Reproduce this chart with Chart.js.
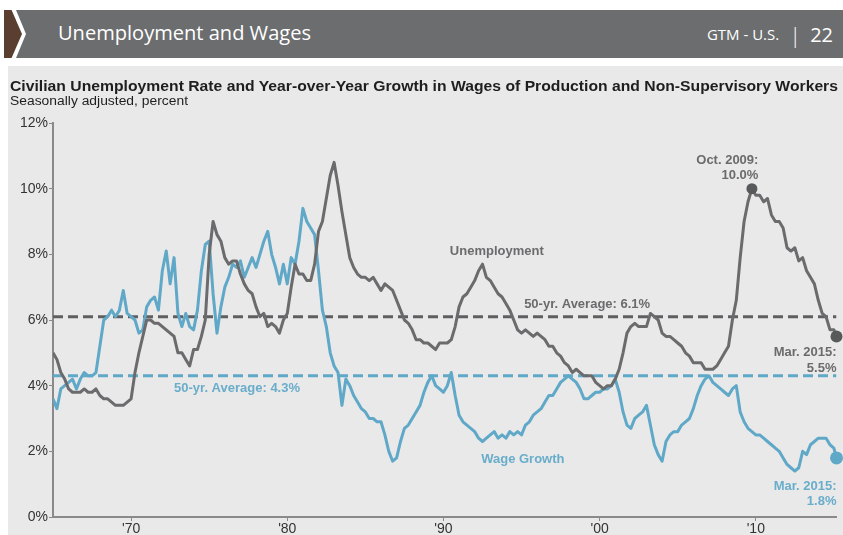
<!DOCTYPE html>
<html>
<head>
<meta charset="utf-8">
<script src="https://cdn.jsdelivr.net/npm/chart.js@4.4.1/dist/chart.umd.min.js"></script>
<style>
  html, body { margin:0; padding:0; background:#fff; }
  #page { position:relative; width:843px; height:535px; overflow:hidden; font-family:"Liberation Sans", Arial, sans-serif; }
  #tab-brown { position:absolute; left:4px; top:10px; width:18px; height:48px; background:#5a3e2f;
    clip-path:polygon(0 0, 42% 0, 100% 50%, 42% 100%, 0 100%); }
  #tab-bar { position:absolute; left:16px; top:10px; right:0; height:48px; background:#6c6d6f;
    clip-path:polygon(0 0, 100% 0, 100% 100%, 0 100%, 10px 50%); }
  #hdr-title { position:absolute; left:58px; top:23px; color:#fff; font:20px/20px "Open Sans", sans-serif; white-space:nowrap; transform-origin:0 0; }
  #hdr-right { position:absolute; right:10px; top:22px; color:#fff; font-family:"Open Sans", sans-serif; white-space:nowrap; display:flex; align-items:center; height:24px; }
  #hdr-right .gtm { font-size:15px; }
  #hdr-right .sep { font-size:22px; margin:0 9px 0 10px; font-weight:300; }
  #hdr-right .pg { font-size:20px; }
  #panel { position:absolute; left:8px; top:66px; right:0; bottom:0; background:#e9e9e9; }
  #chart { position:absolute; left:0; top:0; }
  .fit { position:absolute; white-space:nowrap; transform-origin:0 0; color:#1e1e1e; }
  #title { left:10px; top:78px; font:bold 15px/15px "Liberation Sans", Arial, sans-serif; }
  #subtitle { left:10px; top:95px; font:12.5px/13px "Liberation Sans", Arial, sans-serif; }
</style>
</head>
<body>
<div id="page">
  <div id="tab-brown"></div>
  <div id="tab-bar"></div>
  <div id="hdr-title" class="fit" data-w="253">Unemployment and Wages</div>
  <div id="hdr-right"><span class="gtm">GTM - U.S.</span><span class="sep">|</span><span class="pg">22</span></div>
  <div id="panel"></div>
  <canvas id="chart" width="843" height="535"></canvas>
  <div id="title" class="fit" data-w="828">Civilian Unemployment Rate and Year-over-Year Growth in Wages of Production and Non-Supervisory Workers</div>
  <div id="subtitle" class="fit" data-w="178">Seasonally adjusted, percent</div>
</div>
<script>
// quarterly samples (Jan, Apr, Jul, Oct) from Jan 1965 through Jan 2015, percent
const unemployment = [
  5.0, 4.8, 4.4, 4.2,   // 1965
  3.9, 3.8, 3.8, 3.8,
  3.9, 3.8, 3.8, 3.9,
  3.7, 3.6, 3.6, 3.5,
  3.4, 3.4, 3.4, 3.5,
  3.6, 4.4, 5.0, 5.5,   // 1970
  6.0, 6.0, 5.9, 5.9,
  5.8, 5.7, 5.6, 5.5,
  5.0, 5.0, 4.8, 4.6,
  5.1, 5.1, 5.5, 6.0,
  8.0, 9.0, 8.6, 8.4,   // 1975
  7.9, 7.7, 7.8, 7.8,
  7.4, 7.1, 6.9, 6.8,
  6.4, 6.1, 6.2, 5.8,
  5.9, 5.8, 5.6, 6.0,
  6.2, 7.0, 7.7, 7.4,   // 1980
  7.4, 7.2, 7.2, 7.7,
  8.7, 9.0, 9.7, 10.4,
  10.8, 10.1, 9.3, 8.6,
  7.9, 7.6, 7.4, 7.3,
  7.3, 7.2, 7.3, 7.1,   // 1985
  6.9, 7.1, 7.0, 6.9,
  6.6, 6.3, 6.0, 5.9,
  5.7, 5.4, 5.4, 5.3,
  5.3, 5.2, 5.1, 5.3,
  5.3, 5.3, 5.4, 5.8,   // 1990
  6.4, 6.7, 6.8, 7.0,
  7.2, 7.5, 7.7, 7.3,
  7.2, 7.0, 6.8, 6.7,
  6.5, 6.3, 6.0, 5.7,
  5.6, 5.7, 5.6, 5.5,   // 1995
  5.6, 5.5, 5.4, 5.2,
  5.2, 5.0, 4.9, 4.7,
  4.6, 4.4, 4.5, 4.4,
  4.3, 4.3, 4.3, 4.1,
  4.0, 3.9, 4.0, 4.0,   // 2000
  4.2, 4.5, 5.0, 5.6,
  5.8, 5.9, 5.8, 5.8,
  5.8, 6.2, 6.1, 6.0,
  5.6, 5.5, 5.5, 5.4,
  5.3, 5.2, 5.0, 4.9,   // 2005
  4.7, 4.7, 4.7, 4.5,
  4.5, 4.5, 4.6, 4.8,
  5.0, 5.2, 6.0, 6.6,
  7.9, 9.0, 9.6, 10.0,
  9.8, 9.8, 9.6, 9.7,   // 2010
  9.2, 9.0, 9.0, 8.8,
  8.2, 8.1, 8.2, 7.8,
  7.9, 7.5, 7.3, 7.1,
  6.6, 6.2, 6.1, 5.7,
  5.7                   // 2015
];

const wageGrowth = [
  3.6, 3.3, 3.9, 4.0,   // 1965
  4.1, 4.2, 3.9, 4.2,
  4.4, 4.3, 4.3, 4.4,
  5.2, 6.0, 6.1, 6.3,
  6.1, 6.3, 6.9, 6.2,
  6.1, 6.0, 5.6, 5.7,   // 1970
  6.4, 6.6, 6.7, 6.3,
  7.5, 8.1, 7.1, 7.9,
  6.2, 5.8, 6.2, 5.8,
  5.7, 6.3, 7.5, 8.3,
  8.4, 6.8, 5.6, 6.4,   // 1975
  7.0, 7.3, 7.7, 7.6,
  7.8, 7.3, 7.6, 7.9,
  7.6, 8.0, 8.4, 8.7,
  8.0, 7.6, 7.1, 7.7,
  7.1, 7.9, 7.7, 8.4,   // 1980
  9.4, 9.0, 8.8, 8.6,
  7.5, 6.3, 5.8, 5.0,
  4.6, 4.4, 3.4, 4.2,
  4.0, 3.7, 3.5, 3.3,
  3.2, 3.0, 3.0, 2.9,   // 1985
  2.9, 2.5, 2.0, 1.7,
  1.8, 2.3, 2.7, 2.8,
  3.0, 3.2, 3.4, 3.8,
  4.1, 4.3, 4.0, 3.9,
  3.8, 4.0, 4.4, 3.7,   // 1990
  3.1, 2.9, 2.8, 2.7,
  2.6, 2.4, 2.3, 2.4,
  2.5, 2.6, 2.4, 2.5,
  2.4, 2.6, 2.5, 2.6,
  2.5, 2.8, 2.9, 3.1,   // 1995
  3.2, 3.3, 3.5, 3.7,
  3.7, 3.9, 4.1, 4.2,
  4.3, 4.2, 4.1, 3.9,
  3.6, 3.6, 3.7, 3.8,
  3.8, 3.9, 3.9, 4.0,   // 2000
  4.2, 3.8, 3.2, 2.8,
  2.7, 3.0, 3.1, 3.2,
  3.4, 2.8, 2.2, 1.9,
  1.7, 2.3, 2.5, 2.6,
  2.6, 2.8, 2.9, 3.0,   // 2005
  3.3, 3.7, 4.0, 4.2,
  4.3, 4.1, 4.0, 3.9,
  3.8, 3.7, 3.9, 4.0,
  3.2, 2.9, 2.7, 2.6,
  2.5, 2.5, 2.4, 2.3,   // 2010
  2.2, 2.1, 2.0, 1.8,
  1.6, 1.5, 1.4, 1.5,
  2.0, 1.9, 2.2, 2.3,
  2.4, 2.4, 2.4, 2.2,
  2.1                   // 2015
];

// latest reading (Mar. 2015) and the Oct. 2009 unemployment peak
const latestMonth = 602;      // months since Jan 1965
const latestUnemp = 5.5;
const latestWages = 1.8;
const peakMonth = 537;
const peakUnemp = 10.0;

// 50-year averages
const avgUnemp = 6.1;
const avgWages = 4.3;

// axes
const decadeYears  = [1970, 1980, 1990, 2000, 2010];
const decadeLabels = ["'70", "'80", "'90", "'00", "'10"];
const yTickValues  = [0, 2, 4, 6, 8, 10, 12];

const GREY = '#6b6b6d', GREY_DARK = '#58595b', BLUE = '#5fa8c8', BLUE_TXT = '#69adcb';

const toPoints = (vals, last) =>
  vals.map((v, i) => ({ x: i * 3, y: v })).concat([{ x: latestMonth, y: last }]);

const flat = v => [{ x: 0, y: v }, { x: latestMonth, y: v }];

// text placed in data units (month, percent)
const notes = [
  { text: 'Unemployment',          month: 341, value: 8.10, align: 'center', color: GREY },
  { text: '50-yr. Average: 6.1%',  month: 362, value: 6.46, align: 'left',   color: GREY },
  { text: '50-yr. Average: 4.3%',  month: 93,  value: 3.93, align: 'left',   color: BLUE_TXT },
  { text: 'Wage Growth',           month: 361, value: 1.74, align: 'center', color: BLUE_TXT },
  { text: 'Oct. 2009:',            month: 542, value: 10.87, align: 'right', color: GREY },
  { text: '10.0%',                 month: 542, value: 10.39, align: 'right', color: GREY },
  { text: 'Mar. 2015:',            month: 602, value: 5.00, align: 'right', color: GREY },
  { text: '5.5%',                  month: 602, value: 4.51, align: 'right', color: GREY },
  { text: 'Mar. 2015:',            month: 602, value: 0.94, align: 'right', color: BLUE_TXT },
  { text: '1.8%',                  month: 602, value: 0.46, align: 'right', color: BLUE_TXT }
];

const notesPlugin = {
  id: 'notes',
  afterDatasetsDraw(chart) {
    const { ctx, scales: { x, y } } = chart;
    ctx.save();
    ctx.font = 'bold 13px "Liberation Sans", Arial, sans-serif';
    ctx.textBaseline = 'middle';
    notes.forEach(n => {
      ctx.fillStyle = n.color;
      ctx.textAlign = n.align;
      ctx.fillText(n.text, x.getPixelForValue(n.month), y.getPixelForValue(n.value));
    });
    ctx.restore();
  }
};

const tickFont = { family: '"Liberation Sans", Arial, sans-serif', size: 14 };

new Chart(document.getElementById('chart'), {
  type: 'line',
  data: {
    datasets: [
      { label: 'markers', type: 'scatter', order: 0, clip: false,
        data: [{ x: peakMonth, y: peakUnemp }, { x: latestMonth, y: latestUnemp }, { x: latestMonth, y: latestWages }],
        pointRadius: [5.5, 6, 6.5], pointBackgroundColor: [GREY_DARK, GREY_DARK, BLUE], pointBorderWidth: 0 },
      { label: 'Unemployment', order: 1, data: toPoints(unemployment, latestUnemp),
        borderColor: GREY, borderWidth: 3, pointRadius: 0, tension: 0, borderJoinStyle: 'round' },
      { label: 'Wage Growth', order: 2, data: toPoints(wageGrowth, latestWages),
        borderColor: BLUE, borderWidth: 3, pointRadius: 0, tension: 0, borderJoinStyle: 'round' },
      { label: 'Unemployment avg', order: 3, data: flat(avgUnemp),
        borderColor: '#5f5f61', borderWidth: 3, borderDash: [10, 5], pointRadius: 0 },
      { label: 'Wages avg', order: 4, data: flat(avgWages),
        borderColor: BLUE, borderWidth: 3, borderDash: [10, 5], pointRadius: 0 }
    ]
  },
  options: {
    responsive: false,
    animation: false,
    devicePixelRatio: 1,
    layout: { padding: { top: 123, right: 5, left: 0, bottom: 0 } },
    plugins: { legend: { display: false }, tooltip: { enabled: false } },
    scales: {
      x: {
        type: 'linear', min: 0, max: latestMonth,
        afterBuildTicks: s => { s.ticks = decadeYears.map(yr => ({ value: (yr - 1965) * 12 })); },
        afterFit: s => { s.height = 18; },
        ticks: { font: tickFont, color: '#333', padding: 0, maxRotation: 0,
          callback: v => decadeLabels[decadeYears.indexOf(1965 + v / 12)] },
        grid: { drawOnChartArea: false, drawTicks: true, tickLength: 4, color: '#8a8a8a' },
        border: { display: true, color: '#8a8a8a', width: 2 }
      },
      y: {
        min: 0, max: 12,
        afterBuildTicks: s => { s.ticks = yTickValues.map(v => ({ value: v })); },
        afterFit: s => { s.width = 53; },
        ticks: { font: tickFont, color: '#333', padding: 1, callback: v => v + '%' },
        grid: { drawOnChartArea: false, drawTicks: true, tickLength: 4, color: '#8a8a8a' },
        border: { display: true, color: '#8a8a8a', width: 2 }
      }
    }
  },
  plugins: [notesPlugin]
});

// stretch the text blocks to their set widths
function fitText() {
  document.querySelectorAll('.fit').forEach(el => {
    el.style.transform = 'none';
    const w = el.getBoundingClientRect().width;
    el.style.transform = 'scaleX(' + (Number(el.dataset.w) / w) + ')';
  });
}
fitText();
if (document.fonts) document.fonts.ready.then(fitText);
</script>
</body>
</html>
